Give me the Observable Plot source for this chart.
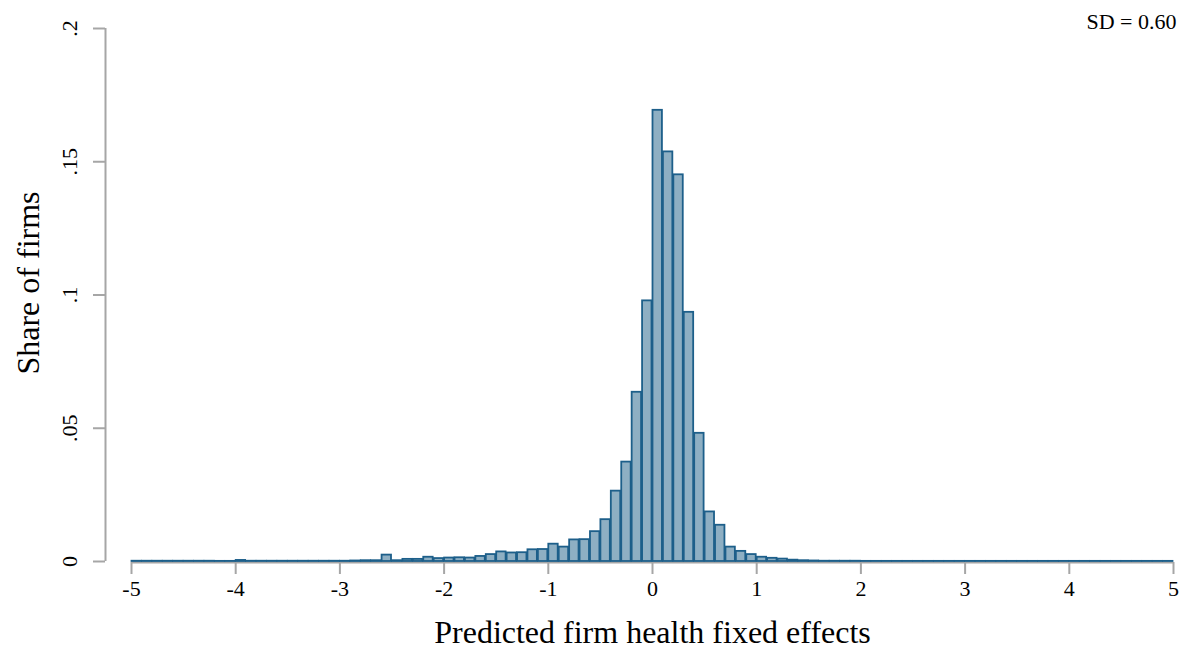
<!DOCTYPE html>
<html>
<head>
<meta charset="utf-8">
<script src="https://cdn.jsdelivr.net/npm/d3@7"></script>
<script src="https://cdn.jsdelivr.net/npm/@observablehq/plot@0.6"></script>
<style>
  html, body { margin: 0; padding: 0; background: #fff; }
  #chart { width: 1200px; height: 650px; }
</style>
</head>
<body>
<div id="chart"></div>
<script>
// Bin lower edges (width 0.1)
const binStart = [
  -5.0,-4.9,-4.8,-4.7,-4.6,-4.5,-4.4,-4.3,-4.2,-4.1,
  -4.0,-3.9,-3.8,-3.7,-3.6,-3.5,-3.4,-3.3,-3.2,-3.1,
  -3.0,-2.9,-2.8,-2.7,-2.6,-2.5,-2.4,-2.3,-2.2,-2.1,
  -2.0,-1.9,-1.8,-1.7,-1.6,-1.5,-1.4,-1.3,-1.2,-1.1,
  -1.0,-0.9,-0.8,-0.7,-0.6,-0.5,-0.4,-0.3,-0.2,-0.1,
   0.0, 0.1, 0.2, 0.3, 0.4, 0.5, 0.6, 0.7, 0.8, 0.9,
   1.0, 1.1, 1.2, 1.3, 1.4, 1.5, 1.6, 1.7, 1.8, 1.9,
   2.0, 2.1, 2.2, 2.3, 2.4, 2.5, 2.6, 2.7, 2.8, 2.9,
   3.0, 3.1, 3.2, 3.3, 3.4, 3.5, 3.6, 3.7, 3.8, 3.9,
   4.0, 4.1, 4.2, 4.3, 4.4, 4.5, 4.6, 4.7, 4.8, 4.9
];
const binWidth = 0.1;
// Share of firms in each bin
const share = [
  0.0001,0.0001,0.0001,0.0001,0.0001,0.0001,0.0001,0.0001,0.00005,0.00005,
  0.0004,0.0001,0.0001,0.0001,0.0001,0.0001,0.0001,0.0001,0.0001,0.0001,
  0.0001,0.0002,0.0003,0.0003,0.0024,0.0003,0.0008,0.0008,0.0016,0.0011,
  0.0013,0.0014,0.0013,0.0019,0.0026,0.0036,0.0032,0.0033,0.0044,0.0045,
  0.0065,0.0054,0.0081,0.0082,0.0112,0.0157,0.0264,0.0373,0.0635,0.0978,
  0.1693,0.1537,0.1451,0.0935,0.0481,0.0186,0.0136,0.0054,0.0038,0.0026,
  0.0016,0.0012,0.0009,0.0005,0.0003,0.0002,0.0001,0.0001,0.0001,0.0001,
  0.00005,0.00005,0.00005,0.00005,0.00005,0.00005,0.00005,0.00005,0.00005,0.00005,
  0.00005,0.00005,0.00005,0.00005,0.00005,0.00005,0.00005,0.00005,0.00005,0.00005,
  0.00005,0.00005,0.00005,0.00005,0.00005,0.00005,0.00005,0.00005,0.00005,0.00005
];
const xTicks = [-5,-4,-3,-2,-1,0,1,2,3,4,5];
const xTickLabels = ["-5","-4","-3","-2","-1","0","1","2","3","4","5"];
const yTicks = [0, 0.05, 0.1, 0.15, 0.2];
const yTickLabels = ["0", ".05", ".1", ".15", ".2"];
const xTitle = "Predicted firm health fixed effects";
const yTitle = "Share of firms";
const note = "SD = 0.60";

const bins = binStart.map((s, i) => ({x1: s, x2: s + binWidth, y: share[i]}));
const axisGray = "#a6a6a6";
const font = "Liberation Serif, Times New Roman, serif";

const chart = Plot.plot({
  width: 1200,
  height: 650,
  marginLeft: 131,
  marginRight: 27,
  marginTop: 28,
  marginBottom: 89,
  style: {fontFamily: font, background: "#fff", color: "#000"},
  x: {domain: [-5, 5], axis: null},
  y: {domain: [0, 0.2], axis: null},
  marks: [
    // x axis line
    Plot.ruleY([0], {stroke: axisGray, strokeWidth: 2, dy: 1}),
    // histogram bars
    Plot.rectY(bins, {x1: "x1", x2: "x2", y: "y", fill: "#8eafc3", stroke: "#1d5f8a", strokeWidth: 1.8, insetLeft: 0.5, insetRight: 0.5}),
    // x ticks + labels
    Plot.axisX({ticks: xTicks, tickSize: 12, tickPadding: 6, stroke: axisGray, strokeWidth: 2, fill: "#000", fontSize: 22, label: null, dy: 1, tickFormat: (d) => xTickLabels[xTicks.indexOf(d)]}),
    // y axis line and ticks, offset left
    Plot.ruleX([-5], {y1: 0, y2: 0.2, stroke: axisGray, strokeWidth: 2, dx: -26}),
    Plot.axisY({ticks: yTicks, tickSize: 12, stroke: axisGray, strokeWidth: 2, tickFormat: () => "", label: null, dx: -26}),
    Plot.text(yTicks, {y: (d) => d, frameAnchor: "left", text: (d, i) => yTickLabels[i], rotate: -90, dx: -62, fontSize: 22, fill: "#000", textAnchor: "middle", lineAnchor: "middle"}),
    // titles
    Plot.text([yTitle], {frameAnchor: "left", dx: -103, dy: -12, rotate: -90, fontSize: 32, fill: "#000", textAnchor: "middle", lineAnchor: "middle"}),
    Plot.text([xTitle], {frameAnchor: "bottom", dy: 71, fontSize: 32, fill: "#000", textAnchor: "middle", lineAnchor: "middle"}),
    Plot.text([note], {frameAnchor: "top-right", dx: 3, dy: -7, fontSize: 22, fill: "#000", textAnchor: "end", lineAnchor: "middle"})
  ]
});
document.getElementById("chart").appendChild(chart);
</script>
</body>
</html>
